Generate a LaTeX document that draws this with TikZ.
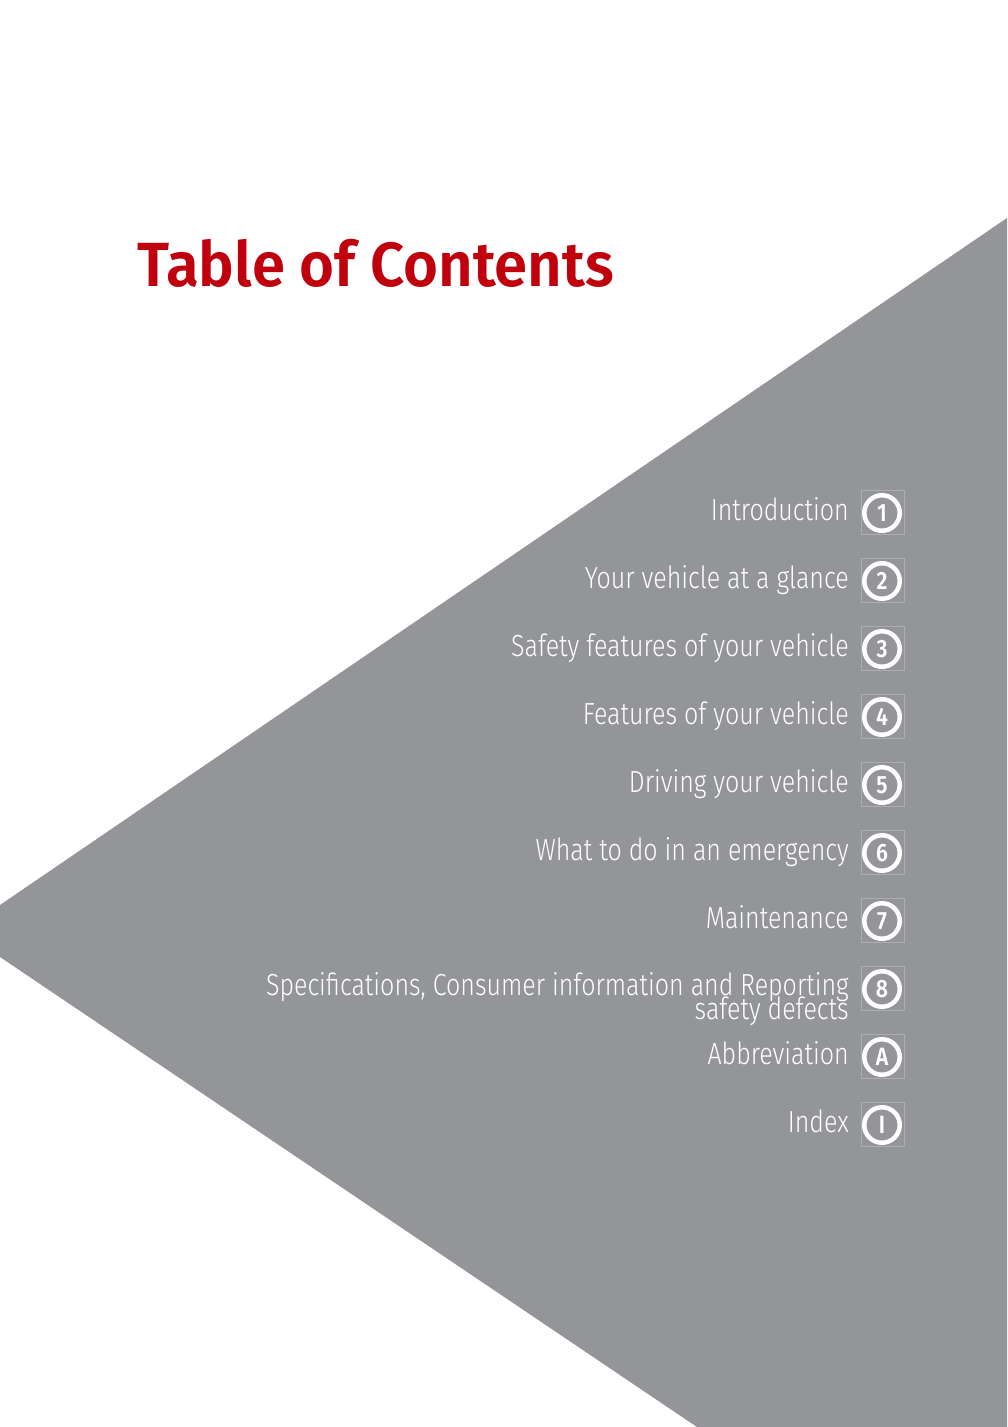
\documentclass[tikz,border=0pt]{standalone}
\usepackage{fontspec}
\setmainfont{Fira Sans}
\newfontfamily\bodyfont{Fira Sans Light}[FakeStretch=0.82]
\newfontfamily\titlefont{Fira Sans SemiBold}[FakeStretch=0.96]
\newfontfamily\numfont{Fira Sans SemiBold}[FakeStretch=0.85]
\definecolor{panelgray}{RGB}{148,149,153}
\definecolor{boxgray}{RGB}{172,173,176}
\definecolor{titlered}{RGB}{192,0,12}
\tikzset{
  entry/.style={anchor=base east, inner sep=0pt, text=white, font=\bodyfont\fontsize{30.5}{24}\selectfont},
  numbox/.style={draw=boxgray, line width=0.6pt, minimum width=43pt, minimum height=44pt, inner sep=0pt},
  numring/.style={draw=white, line width=4.5pt, circle, minimum size=35.5pt, inner sep=0pt, text=white, font=\numfont\fontsize{25}{25}\selectfont}
}
\begin{document}
\begin{tikzpicture}[x=1pt,y=-1pt]
\useasboundingbox (0,0) rectangle (1007,1427);
\fill[white] (0,0) rectangle (1007,1427);
\fill[panelgray] (1007,218) -- (0,905) -- (0,957) -- (697,1427) -- (1007,1427) -- cycle;
\node[anchor=base west, inner sep=0pt, text=titlered, font=\titlefont\fontsize{62.4}{70}\selectfont] (title) at (137,286) {Table of Contents};
% rows
\foreach \i/\txt/\num in {1/Introduction/1, 2/Your vehicle at a glance/2, 3/Safety features of your vehicle/3, 4/Features of your vehicle/4, 5/Driving your vehicle/5, 6/What to do in an emergency/6, 7/Maintenance/7, 9/Abbreviation/A, 10/Index/I}{
  \pgfmathsetmacro{\cy}{513+68*(\i-1)}
  \node[entry] (t\i) at (849,\cy+7) {\txt};
  \node[numbox] (b\i) at (882.5,\cy-1) {};
  \node[numring] (c\i) at (882,\cy) {\num};
}
\node[entry] (t8a) at (849,995) {Specifications, Consumer information and Reporting};
\node[entry] (t8b) at (849,1019) {safety defects};
\node[numbox] (b8) at (882.5,988) {};
\node[numring] (c8) at (882,989) {8};
\end{tikzpicture}
\end{document}
